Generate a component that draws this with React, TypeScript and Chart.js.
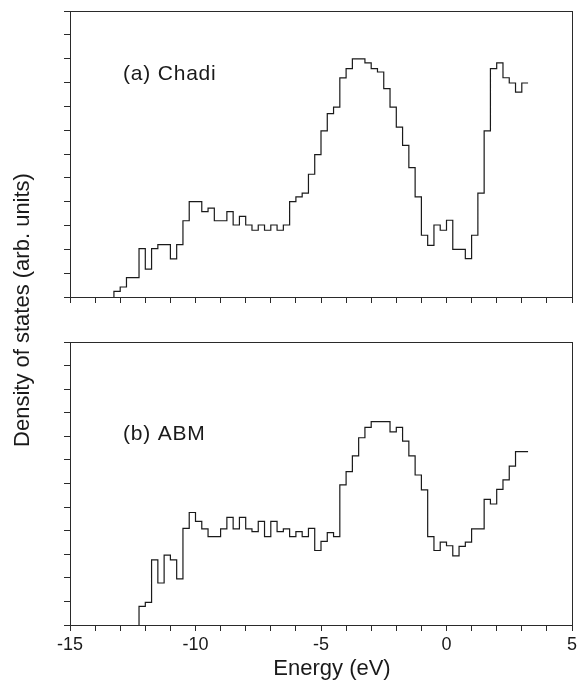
import React, { useEffect, useRef } from 'react';
import { Chart, registerables } from 'chart.js';

Chart.register(...registerables);

// Bin right edges (eV); first entry is the start of the first bin
const energy = [
  -13.25, -13, -12.75, -12.5, -12.25, -12, -11.75, -11.5, -11.25, -11, -10.75, -10.5, -10.25, -10,
  -9.75, -9.5, -9.25, -9, -8.75, -8.5, -8.25, -8, -7.75, -7.5, -7.25, -7, -6.75, -6.5, -6.25, -6,
  -5.75, -5.5, -5.25, -5, -4.75, -4.5, -4.25, -4, -3.75, -3.5, -3.25, -3, -2.75, -2.5, -2.25, -2,
  -1.75, -1.5, -1.25, -1, -0.75, -0.5, -0.25, 0, 0.25, 0.5, 0.75, 1, 1.25, 1.5, 1.75, 2, 2.25,
  2.5, 2.75, 3, 3.25,
];

const dosChadi = [
  0, 0.24, 0.42, 0.81, 0.81, 2.03, 1.17, 2.03, 2.2, 2.2, 1.6, 2.2, 3.2, 4.0, 4.0, 3.58, 3.73, 3.2,
  3.2, 3.58, 3.02, 3.38, 3.02, 2.8, 3.02, 2.8, 3.02, 2.8, 3.02, 4.0, 4.2, 4.36, 5.15, 5.97, 6.97,
  7.69, 7.97, 9.19, 9.58, 9.99, 9.99, 9.82, 9.58, 9.44, 8.74, 7.97, 7.13, 6.36, 5.43, 4.2, 2.59,
  2.17, 3.02, 2.8, 3.22, 2.0, 2.0, 1.61, 2.59, 4.36, 6.97, 9.58, 9.82, 9.2, 8.98, 8.6, 8.98,
];

const dosABM = [
  null, null, null, null, 0, 0.79, 0.96, 2.76, 1.78, 2.96, 2.76, 1.96, 4.1, 4.77, 4.39, 4.08, 3.75, 3.75, 4.08,
  4.56, 4.08, 4.56, 4.08, 3.96, 4.39, 3.75, 4.39, 3.96, 4.08, 3.75, 3.96, 3.75, 4.1, 3.16, 3.55,
  3.92, 3.75, 5.94, 6.5, 7.17, 7.94, 8.38, 8.62, 8.62, 8.62, 8.19, 8.38, 7.8, 7.17, 6.36, 5.73,
  3.75, 3.16, 3.51, 3.36, 2.93, 3.33, 3.51, 4.08, 4.08, 5.33, 5.13, 5.75, 6.15, 6.74, 7.35, 7.35,
];

const xTickValues = [-15, -14, -13, -12, -11, -10, -9, -8, -7, -6, -5, -4, -3, -2, -1, 0, 1, 2, 3, 4, 5];
const xLabelValues = [-15, -10, -5, 0, 5];
const xTickLabels = ['-15', '-10', '-5', '0', '5'];
const yTickValues = [0, 1, 2, 3, 4, 5, 6, 7, 8, 9, 10, 11, 12];

const panelLabels = ['(a) Chadi', '(b) ABM'];
const xTitle = 'Energy (eV)';
const yTitle = 'Density of states (arb. units)';

const FONT = "'Liberation Sans', Arial, Helvetica, sans-serif";
const INK = '#1a1a1a';
const AXIS = '#2a2a2a';

function makeConfig(values: (number | null)[], label: string, labelY: number, isBottom: boolean): any {
  const points = energy.map((e, i) => ({ x: e, y: values[i] }));
  const plugin = {
    id: 'decor' + (isBottom ? 'B' : 'A'),
    afterDraw(chart: any) {
      const { ctx, chartArea: a } = chart;
      ctx.save();
      ctx.strokeStyle = AXIS;
      ctx.lineWidth = 1;
      ctx.strokeRect(Math.round(a.left) + 0.5, Math.round(a.top) + 0.5, Math.round(a.right - a.left), Math.round(a.bottom - a.top));
      ctx.fillStyle = INK;
      ctx.font = `21px ${FONT}`;
      (ctx as any).letterSpacing = '0.8px';
      ctx.textAlign = 'left';
      ctx.textBaseline = 'middle';
      ctx.fillText(label, 123, labelY);
      if (isBottom) {
        ctx.font = `22px ${FONT}`;
        (ctx as any).letterSpacing = '0px';
        ctx.textAlign = 'center';
        ctx.textBaseline = 'middle';
        ctx.fillText(xTitle, 332, 669);
        ctx.translate(23, 310);
        ctx.rotate(-Math.PI / 2);
        ctx.fillText(yTitle, 0, 0);
      }
      ctx.restore();
    },
  };
  return {
    type: 'line',
    data: {
      datasets: [
        {
          data: points,
          stepped: 'after',
          borderColor: INK,
          borderWidth: 1.2,
          pointRadius: 0,
          fill: false,
          tension: 0,
          spanGaps: false,
        },
      ],
    },
    options: {
      animation: false,
      responsive: false,
      maintainAspectRatio: false,
      events: [],
      layout: { padding: { left: 0, right: 10, top: isBottom ? 342 : 11, bottom: 0 } },
      plugins: { legend: { display: false }, tooltip: { enabled: false }, title: { display: false } },
      scales: {
        x: {
          type: 'linear',
          min: -15,
          max: 5,
          afterBuildTicks: (s: any) => {
            s.ticks = xTickValues.map((v) => ({ value: v }));
          },
          afterFit: (s: any) => {
            s.height = isBottom ? 57 : 13;
          },
          ticks: {
            autoSkip: false,
            maxRotation: 0,
            padding: 3,
            color: INK,
            font: { family: FONT, size: 18 },
            callback: (v: any) => {
              if (!isBottom) return '';
              const k = xLabelValues.indexOf(Number(v));
              return k >= 0 ? xTickLabels[k] : '';
            },
          },
          grid: { drawOnChartArea: false, drawTicks: true, tickLength: 6, color: AXIS, lineWidth: 1 },
          border: { display: true, color: AXIS, width: 1 },
        },
        y: {
          type: 'linear',
          min: 0,
          max: 12,
          afterBuildTicks: (s: any) => {
            s.ticks = yTickValues.map((v) => ({ value: v }));
          },
          afterFit: (s: any) => {
            s.width = 70;
          },
          ticks: { autoSkip: false, callback: () => '', font: { family: FONT, size: 10 } },
          grid: { drawOnChartArea: false, drawTicks: true, tickLength: 6, color: AXIS, lineWidth: 1 },
          border: { display: true, color: AXIS, width: 1 },
        },
      },
    },
    plugins: [plugin],
  };
}

export default function App() {
  const topRef = useRef<HTMLCanvasElement>(null);
  const botRef = useRef<HTMLCanvasElement>(null);

  useEffect(() => {
    const c1 = new Chart(topRef.current as HTMLCanvasElement, makeConfig(dosChadi, panelLabels[0], 74, false));
    const c2 = new Chart(botRef.current as HTMLCanvasElement, makeConfig(dosABM, panelLabels[1], 434, true));
    return () => {
      c1.destroy();
      c2.destroy();
    };
  }, []);

  return (
    <div style={{ position: 'fixed', left: 0, top: 0, width: 582, height: 682, background: '#fff' }}>
      <canvas ref={botRef} width={582} height={682} style={{ position: 'absolute', left: 0, top: 0, width: 582, height: 682 }} />
      <canvas ref={topRef} width={582} height={310} style={{ position: 'absolute', left: 0, top: 0, width: 582, height: 310 }} />
    </div>
  );
}
